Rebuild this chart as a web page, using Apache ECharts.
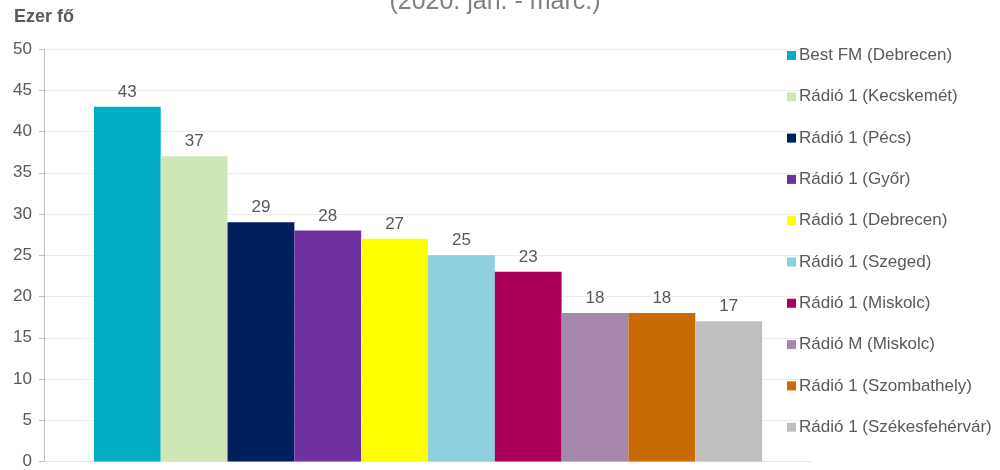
<!DOCTYPE html>
<html><head><meta charset="utf-8">
<script src="https://cdn.jsdelivr.net/npm/echarts@6/dist/echarts.min.js"></script>
<style>html,body{margin:0;padding:0;background:#fff}#c{width:1000px;height:470px}</style>
</head><body><div id="c"></div>
<script>
const stations = ["Best FM (Debrecen)","Rádió 1 (Kecskemét)","Rádió 1 (Pécs)","Rádió 1 (Győr)","Rádió 1 (Debrecen)","Rádió 1 (Szeged)","Rádió 1 (Miskolc)","Rádió M (Miskolc)","Rádió 1 (Szombathely)","Rádió 1 (Székesfehérvár)"];
const listeners = [43,37,29,28,27,25,23,18,18,17];
const colors = ["#00adc4","#cfe7b4","#001f5f","#7030a0","#ffff00","#8dd1e0","#ab005a","#a689aa","#c96a04","#bfbfbf"];
const yTicks = {min:0,max:50,interval:5};

const chart = echarts.init(document.getElementById('c'));
const txt = '#595959';
chart.setOption({
  animation:false,
  title:{text:'(2020. jan. - márc.)',left:490,textAlign:'center',top:-15,
    textStyle:{fontFamily:'Liberation Sans',fontSize:25,fontWeight:'normal',color:'#808080'}},
  graphic:[{type:'text',left:14,top:8,style:{text:'Ezer fő',fontFamily:'Liberation Sans',fontSize:18,fontWeight:'bold',fill:txt}}],
  grid:{left:44,right:188,top:49,bottom:5,containLabel:false},
  legend:{orient:'vertical',left:782,top:42,icon:'rect',itemWidth:9,itemHeight:9,itemGap:24.3,
    data:stations,
    textStyle:{fontFamily:'Liberation Sans',fontSize:17,color:txt,padding:[0,0,0,-2]}},
  xAxis:{type:'category',data:[''],axisLine:{show:true,lineStyle:{color:'#e6e6e6'}},axisTick:{show:false},axisLabel:{show:false}},
  yAxis:{type:'value',min:yTicks.min,max:yTicks.max,interval:yTicks.interval,
    axisLine:{show:true,lineStyle:{color:'#bfbfbf'}},
    axisTick:{show:true,length:5,lineStyle:{color:'#bfbfbf'}},
    axisLabel:{fontFamily:'Liberation Sans',fontSize:17,color:txt,margin:12},
    splitLine:{lineStyle:{color:'#ececec'}}},
  series: stations.map((s,i)=>({
    name:s,type:'bar',data:[listeners[i]],barGap:'0%',barCategoryGap:'13%',
    itemStyle:{color:colors[i]},
    label:{show:true,position:'top',distance:6,fontFamily:'Liberation Sans',fontSize:17,color:txt}
  }))
});
</script></body></html>
